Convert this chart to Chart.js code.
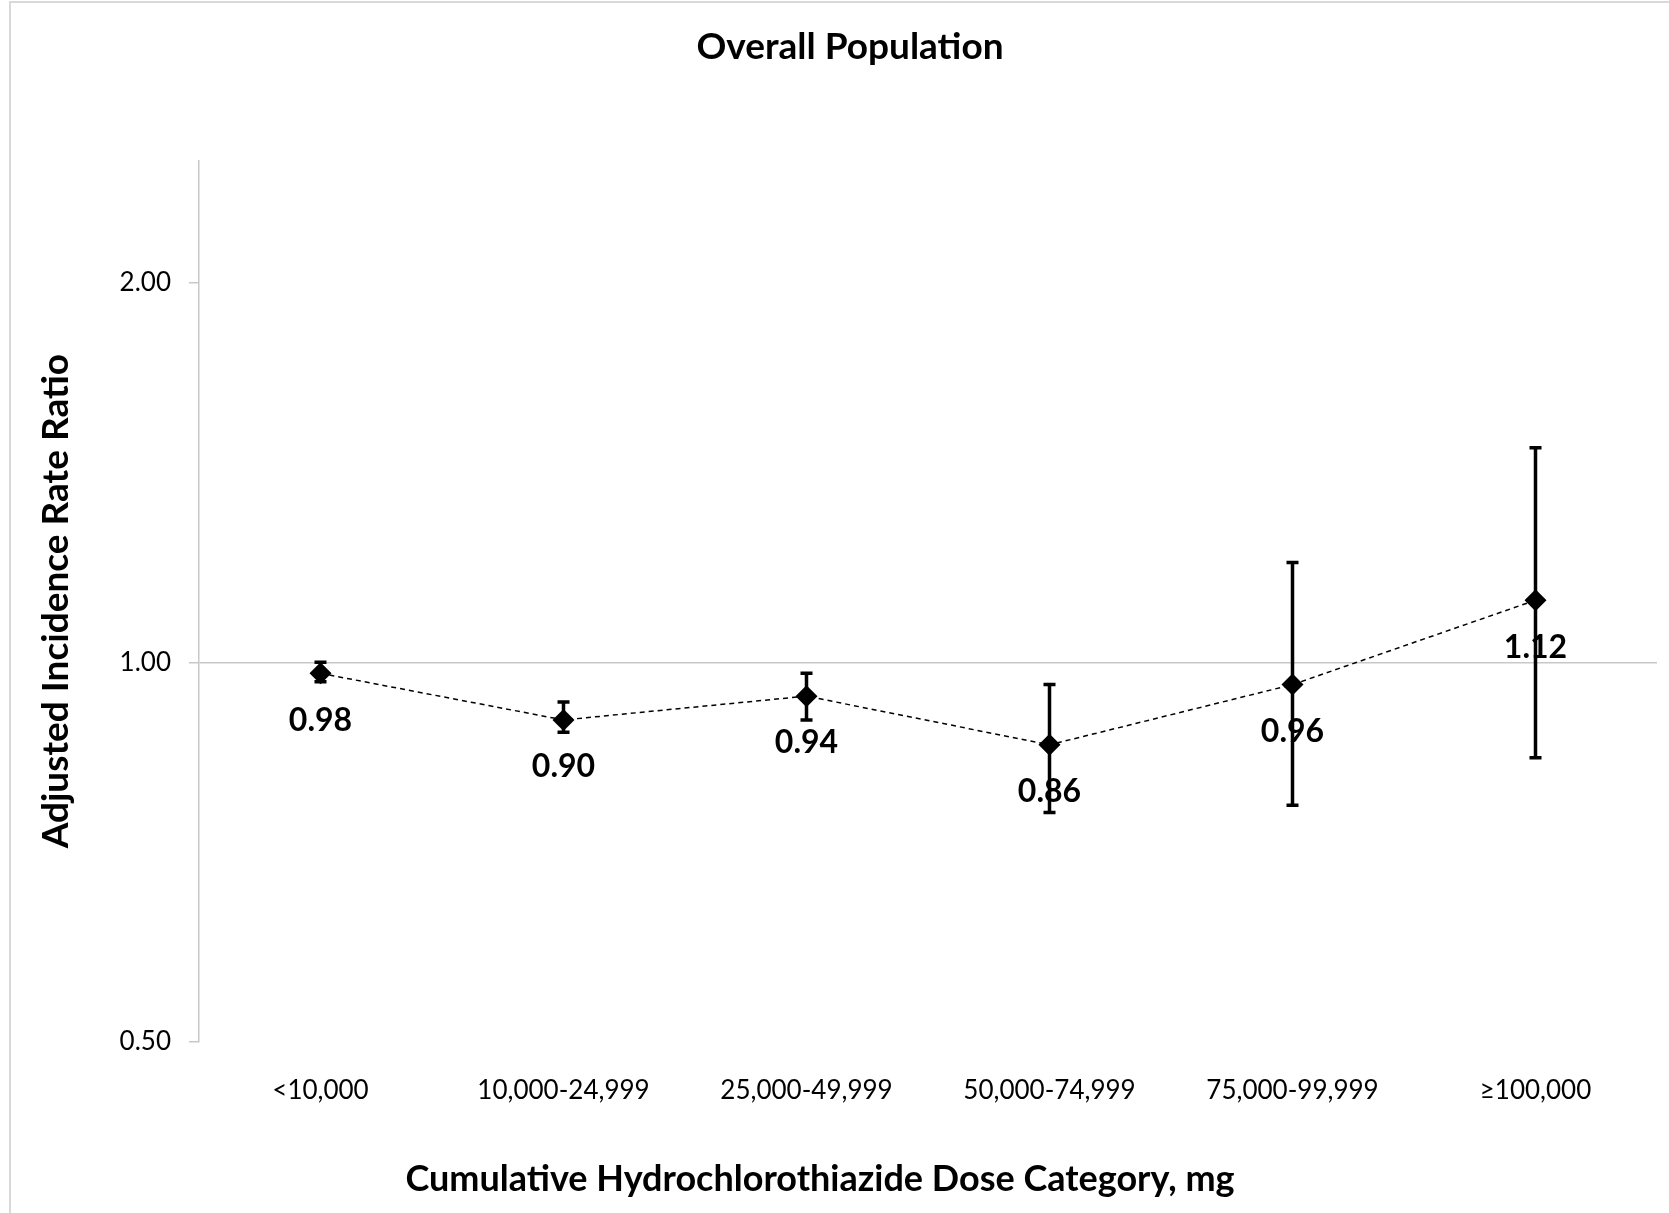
<!DOCTYPE html>
<html>
<head>
<meta charset="utf-8">
<script src="https://cdn.jsdelivr.net/npm/chart.js@4.4.1/dist/chart.umd.min.js"></script>
<style>
  body { margin: 0; background: #fff; }
  #wrap { position: relative; width: 1669px; height: 1213px; overflow: hidden; }
  #frame { position: absolute; left: 9px; top: 1px; width: 1700px; height: 1300px;
           border-left: 2px solid #d9d9d9; border-top: 2px solid #d9d9d9; }
  canvas { position: absolute; left: 0; top: 0; }
</style>
</head>
<body>
<div id="wrap">
  <div id="frame"></div>
  <canvas id="irrChart" width="1669" height="1213"></canvas>
</div>
<script>
// Overall population: adjusted IRR by cumulative HCTZ dose
const categories = ["<10,000", "10,000-24,999", "25,000-49,999", "50,000-74,999", "75,000-99,999", "≥100,000"];
const irr = [0.98, 0.90, 0.94, 0.86, 0.96, 1.12];
const ciLower = [0.965, 0.88, 0.90, 0.76, 0.77, 0.84];
const ciUpper = [1.00, 0.93, 0.98, 0.96, 1.20, 1.48];
const yTicks = [0.5, 1, 2];

const FONT = "Lato";
const xTitle = "Cumulative Hydrochlorothiazide Dose Category, mg";

// vertical error bars with caps, under the markers
const errorBars = {
    id: "errorBars",
    beforeDatasetsDraw(chart) {
        const { ctx, scales: { x, y } } = chart;
        ctx.save();
        ctx.strokeStyle = "#000";
        ctx.lineWidth = 3.5;
        irr.forEach((v, i) => {
            const px = x.getPixelForValue(i);
            const top = y.getPixelForValue(ciUpper[i]);
            const bot = y.getPixelForValue(ciLower[i]);
            ctx.beginPath();
            ctx.moveTo(px, top); ctx.lineTo(px, bot);
            ctx.moveTo(px - 6, top); ctx.lineTo(px + 6, top);
            ctx.moveTo(px - 6, bot); ctx.lineTo(px + 6, bot);
            ctx.stroke();
        });
        ctx.restore();
    }
};

// value labels under each point + the x axis title
const valueLabels = {
    id: "valueLabels",
    afterDatasetsDraw(chart) {
        const { ctx } = chart;
        const meta = chart.getDatasetMeta(0);
        ctx.save();
        ctx.fillStyle = "#000";
        ctx.font = "bold 32px " + FONT;
        ctx.textAlign = "center";
        ctx.textBaseline = "middle";
        meta.data.forEach((pt, i) => {
            ctx.fillText(irr[i].toFixed(2), pt.x, pt.y + 47);
        });
        ctx.restore();
    },
    afterDraw(chart) {
        const { ctx } = chart;
        ctx.save();
        ctx.fillStyle = "#000";
        ctx.font = "bold 36px " + FONT;
        ctx.textAlign = "center";
        ctx.textBaseline = "middle";
        ctx.fillText(xTitle, 820, 1179);
        ctx.restore();
    }
};

new Chart(document.getElementById("irrChart"), {
    type: "line",
    data: {
        labels: categories,
        datasets: [
            {
                data: irr,
                borderColor: "#000",
                borderWidth: 1.5,
                borderDash: [5, 4],
                tension: 0,
                pointStyle: "rectRot",
                pointRadius: 11,
                pointBackgroundColor: "#000",
                pointBorderColor: "#000",
                pointBorderWidth: 0
            }
        ]
    },
    options: {
        responsive: false,
        animation: false,
        layout: {
            padding: { left: 43, right: 12, top: 0, bottom: 0 }
        },
        plugins: {
            legend: { display: false },
            tooltip: { enabled: false },
            title: {
                display: true,
                text: "Overall Population",
                color: "#000",
                font: { family: FONT, size: 37, weight: "bold" },
                padding: { top: 24.5, bottom: 91.8 }
            }
        },
        scales: {
            x: {
                offset: true,
                grid: { display: false },
                border: { display: false },
                ticks: {
                    color: "#000",
                    padding: 25,
                    font: { family: FONT, size: 26 }
                },
                afterFit(scale) { scale.height = 171.3; }
            },
            y: {
                type: "logarithmic",
                min: 0.5,
                max: 2.5,
                afterBuildTicks(scale) {
                    scale.ticks = yTicks.map(v => ({ value: v }));
                },
                afterFit(scale) { scale.width = 156; },
                grid: {
                    color: c => (c.tick && c.tick.value === 1 ? "#c8c8c8" : "rgba(0,0,0,0)"),
                    tickColor: "#c8c8c8",
                    tickLength: 10,
                    lineWidth: 1.5
                },
                border: { color: "#c8c8c8", width: 1.5 },
                ticks: {
                    color: "#000",
                    padding: 18,
                    font: { family: FONT, size: 26 },
                    callback: v => Number(v).toFixed(2)
                },
                title: {
                    display: true,
                    text: "Adjusted Incidence Rate Ratio",
                    color: "#000",
                    font: { family: FONT, size: 37, weight: "bold" },
                    padding: { top: -9, bottom: 0 }
                }
            }
        }
    },
    plugins: [errorBars, valueLabels]
});
</script>
</body>
</html>
